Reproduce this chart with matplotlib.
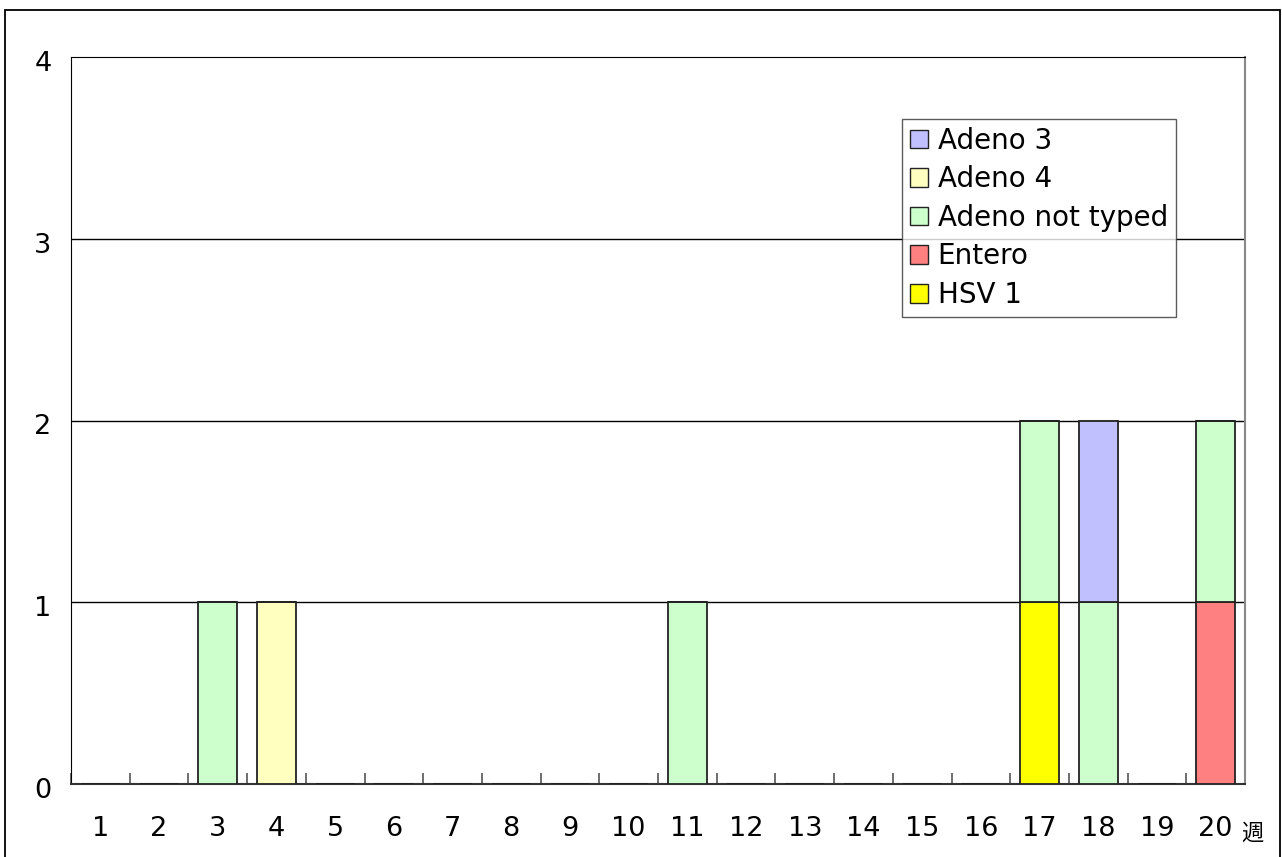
import matplotlib
matplotlib.use("Agg")
import matplotlib.pyplot as plt
import matplotlib.transforms as mtransforms
from matplotlib.patches import Rectangle, Patch
import numpy as np

weeks = [str(i) for i in range(1, 21)]
# stacking order bottom -> top
series_names = ["HSV 1", "Entero", "Adeno not typed", "Adeno 4", "Adeno 3"]
hsv1 =          [0,0,0,0,0,0,0,0,0,0,0,0,0,0,0,0,1,0,0,0]
entero =        [0,0,0,0,0,0,0,0,0,0,0,0,0,0,0,0,0,0,0,1]
adeno_nt =      [0,0,1,0,0,0,0,0,0,0,1,0,0,0,0,0,1,1,0,1]
adeno4 =        [0,0,0,1,0,0,0,0,0,0,0,0,0,0,0,0,0,0,0,0]
adeno3 =        [0,0,0,0,0,0,0,0,0,0,0,0,0,0,0,0,0,1,0,0]
colors = ["#ffff00", "#ff8080", "#ccffcc", "#ffffc0", "#c0c0ff"]

plt.rcParams['font.family'] = ['DejaVu Sans']

fig = plt.figure(figsize=(12.82, 8.57), dpi=100)
ax = fig.add_axes([71/1282, 1-784/857, (1245-71)/1282, (784-57)/857])

x = np.arange(len(weeks))
data = [hsv1, entero, adeno_nt, adeno4, adeno3]
bottom = np.zeros(len(weeks))
for vals, c, name in zip(data, colors, series_names):
    v = np.array(vals, dtype=float)
    ax.bar(x, v, width=0.66, bottom=bottom, color=c, edgecolor='#222222',
           linewidth=1.3, label=name, zorder=3)
    bottom += v

ax.set_xlim(-0.5, len(weeks) - 0.5)
ax.set_ylim(0, 4)
ax.set_yticks([0, 1, 2, 3, 4])
ax.set_xticks(x)
ax.set_xticklabels(weeks)
ax.set_xticks(np.arange(-0.5, len(weeks) + 0.5, 1), minor=True)
ax.tick_params(axis='x', which='major', length=0, pad=23, labelsize=19.5)
ax.tick_params(axis='x', which='minor', direction='in', length=8, width=1.2, color='#555555')
ax.tick_params(axis='y', length=0, pad=14, labelsize=19.5)
offset = mtransforms.ScaledTranslation(0, -4/100, fig.dpi_scale_trans)
for lbl in ax.get_yticklabels():
    lbl.set_transform(lbl.get_transform() + offset)
for yv in [1, 2, 3]:
    ax.axhline(yv, color='black', linewidth=1, zorder=1)
ax.spines['top'].set_color('black')
ax.spines['left'].set_color('black')
ax.spines['bottom'].set_color('#333333')
ax.spines['bottom'].set_linewidth(1.5)
ax.spines['right'].set_color('#888888')
ax.spines['right'].set_linewidth(1.5)

handles = [Patch(facecolor=c, edgecolor='#222222', label=n)
           for c, n in zip(colors[::-1], series_names[::-1])]
leg = ax.legend(handles=handles, loc='upper left',
                bbox_to_anchor=((902-71)/1174, (784-119)/727),
                fontsize=20, frameon=True, fancybox=False, edgecolor='#333333',
                handlelength=0.65, handleheight=0.65, handletextpad=0.35,
                labelspacing=0.38, borderpad=0.28, borderaxespad=0)
leg.get_frame().set_linewidth(1.0)

fig.text(1252/1282, 1-833/857, "週", family=['Noto Sans CJK JP'], fontsize=16,
         ha='center', va='center')

fig.patches.append(Rectangle((5/1282, -0.05), (1280-5)/1282, (1.05 - 10/857),
                             transform=fig.transFigure, fill=False,
                             edgecolor='black', linewidth=1.3))

fig.savefig("out.png", dpi=100)
